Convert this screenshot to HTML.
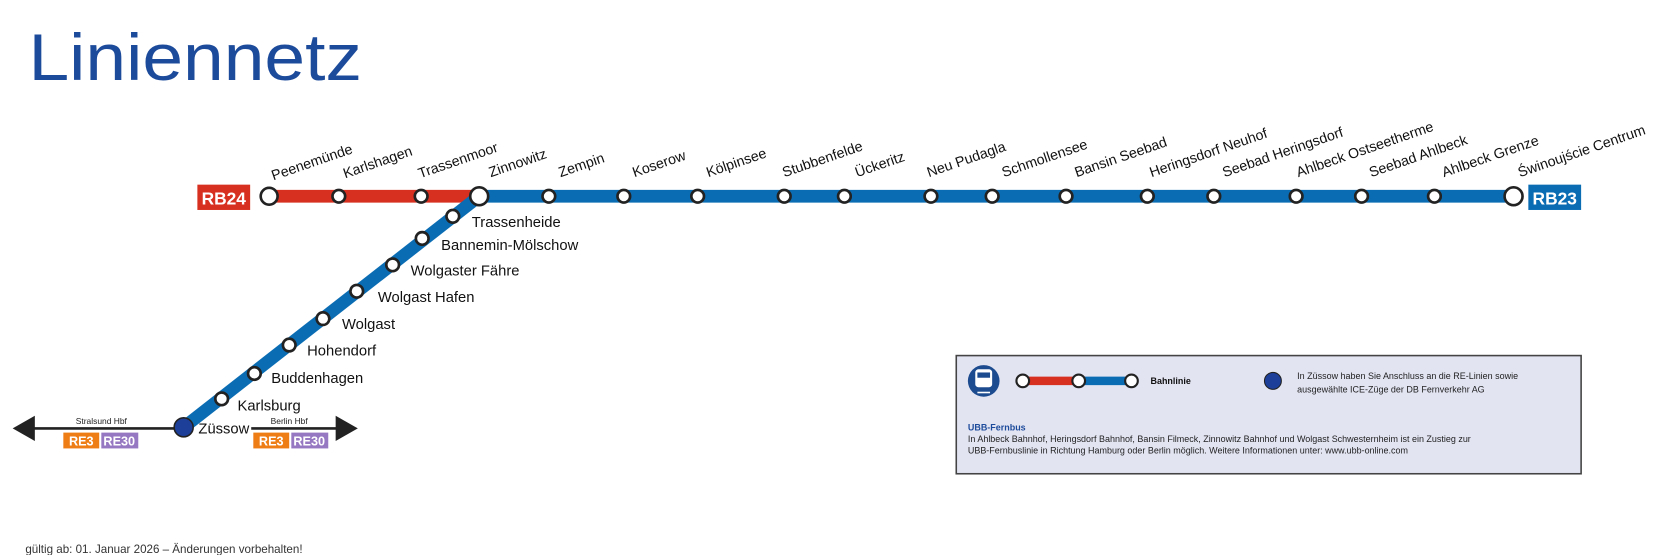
<!DOCTYPE html>
<html><head><meta charset="utf-8"><style>
html,body{margin:0;padding:0;background:#fff;}
svg{display:block;}
text{font-family:"Liberation Sans",sans-serif;}
</style></head><body>
<svg width="1655" height="555" viewBox="0 0 1568 526" preserveAspectRatio="none" xmlns="http://www.w3.org/2000/svg">
<text x="27" y="76" font-size="62" fill="#1d4b9b" textLength="316" lengthAdjust="spacingAndGlyphs">Liniennetz</text>

<line x1="255" y1="186" x2="454" y2="186" stroke="#d83020" stroke-width="12"/>
<line x1="454" y1="186" x2="1434" y2="186" stroke="#0a6db4" stroke-width="12"/>
<line x1="174" y1="405" x2="454" y2="186" stroke="#0a6db4" stroke-width="12"/>

<rect x="187" y="175" width="50" height="24" fill="#d83020"/>
<text x="212" y="194" font-size="17" font-weight="bold" fill="#fff" text-anchor="middle" textLength="42" lengthAdjust="spacingAndGlyphs">RB24</text>
<rect x="1448" y="175" width="50" height="24" fill="#0a6db4"/>
<text x="1473" y="194" font-size="17" font-weight="bold" fill="#fff" text-anchor="middle" textLength="42" lengthAdjust="spacingAndGlyphs">RB23</text>

<g fill="#fff" stroke="#222" stroke-width="2.5">
<circle cx="255" cy="186" r="8"/><circle cx="321" cy="186" r="6"/><circle cx="399" cy="186" r="6"/><circle cx="454" cy="186" r="8.5"/>
<circle cx="520" cy="186" r="6"/><circle cx="591" cy="186" r="6"/><circle cx="661" cy="186" r="6"/><circle cx="743" cy="186" r="6"/>
<circle cx="800" cy="186" r="6"/><circle cx="882" cy="186" r="6"/><circle cx="940" cy="186" r="6"/><circle cx="1010" cy="186" r="6"/>
<circle cx="1087" cy="186" r="6"/><circle cx="1150" cy="186" r="6"/><circle cx="1228" cy="186" r="6"/><circle cx="1290" cy="186" r="6"/>
<circle cx="1359" cy="186" r="6"/><circle cx="1434" cy="186" r="8.5"/>
<circle cx="210" cy="378" r="6"/><circle cx="241" cy="354" r="6"/><circle cx="274" cy="327" r="6"/><circle cx="306" cy="302" r="6"/>
<circle cx="338" cy="276" r="6"/><circle cx="372" cy="251" r="6"/><circle cx="400" cy="226" r="6"/><circle cx="429" cy="205" r="6"/>
</g>
<circle cx="174" cy="405" r="9" fill="#1d3f99" stroke="#222" stroke-width="1.5"/>

<g font-size="13.5" fill="#111">
<text transform="translate(259,171) rotate(-19)">Peenemünde</text>
<text transform="translate(327,169) rotate(-19)">Karlshagen</text>
<text transform="translate(398,169) rotate(-19)">Trassenmoor</text>
<text transform="translate(465,168) rotate(-19)">Zinnowitz</text>
<text transform="translate(531,168) rotate(-19)">Zempin</text>
<text transform="translate(601,168) rotate(-19)">Koserow</text>
<text transform="translate(671,168) rotate(-19)">Kölpinsee</text>
<text transform="translate(743,168) rotate(-19)">Stubbenfelde</text>
<text transform="translate(812,168) rotate(-19)">Ückeritz</text>
<text transform="translate(880,168) rotate(-19)">Neu Pudagla</text>
<text transform="translate(951,168) rotate(-19)">Schmollensee</text>
<text transform="translate(1020,168) rotate(-19)">Bansin Seebad</text>
<text transform="translate(1091,168) rotate(-19)">Heringsdorf Neuhof</text>
<text transform="translate(1160,168) rotate(-19)">Seebad Heringsdorf</text>
<text transform="translate(1230,168) rotate(-19)">Ahlbeck Ostseetherme</text>
<text transform="translate(1299,168) rotate(-19)">Seebad Ahlbeck</text>
<text transform="translate(1368,168) rotate(-19)">Ahlbeck Grenze</text>
<text transform="translate(1440,168) rotate(-19)">Świnoujście Centrum</text>
</g>
<g font-size="14" fill="#111">
<text x="447" y="215">Trassenheide</text>
<text x="418" y="237">Bannemin-Mölschow</text>
<text x="389" y="261">Wolgaster  Fähre</text>
<text x="358" y="286">Wolgast Hafen</text>
<text x="324" y="312">Wolgast</text>
<text x="291" y="337">Hohendorf</text>
<text x="257" y="363">Buddenhagen</text>
<text x="225" y="389">Karlsburg</text>
<text x="188" y="411">Züssow</text>
</g>

<line x1="24" y1="406" x2="165" y2="406" stroke="#222" stroke-width="2.5"/>
<polygon points="12,406 33,394 33,418" fill="#222"/>
<line x1="238" y1="406" x2="325" y2="406" stroke="#222" stroke-width="2.5"/>
<polygon points="339,406 318,394 318,418" fill="#222"/>
<text x="96" y="402" font-size="8" fill="#222" text-anchor="middle">Stralsund Hbf</text>
<text x="274" y="402" font-size="8" fill="#222" text-anchor="middle">Berlin Hbf</text>
<rect x="60" y="410" width="34" height="15" fill="#ee7d16"/><text x="77" y="422" font-size="12" font-weight="bold" fill="#fff" text-anchor="middle">RE3</text>
<rect x="96" y="410" width="35" height="15" fill="#9677c2"/><text x="113" y="422" font-size="12" font-weight="bold" fill="#fff" text-anchor="middle">RE30</text>
<rect x="240" y="410" width="34" height="15" fill="#ee7d16"/><text x="257" y="422" font-size="12" font-weight="bold" fill="#fff" text-anchor="middle">RE3</text>
<rect x="276" y="410" width="35" height="15" fill="#9677c2"/><text x="293" y="422" font-size="12" font-weight="bold" fill="#fff" text-anchor="middle">RE30</text>

<rect x="906" y="337" width="592" height="112" fill="#e2e4f2" stroke="#444" stroke-width="1.5"/>
<circle cx="932" cy="361" r="15" fill="#1d4b8f"/>
<rect x="924" y="350" width="16" height="17" rx="3" fill="#fff"/>
<rect x="926" y="353" width="12" height="5" fill="#1d4b8f"/>
<line x1="926" y1="372" x2="938" y2="372" stroke="#fff" stroke-width="1.5"/>
<line x1="968" y1="361" x2="1022" y2="361" stroke="#d83020" stroke-width="8"/>
<line x1="1022" y1="361" x2="1072" y2="361" stroke="#0a6db4" stroke-width="8"/>
<g fill="#fff" stroke="#222" stroke-width="2"><circle cx="969" cy="361" r="6"/><circle cx="1022" cy="361" r="6"/><circle cx="1072" cy="361" r="6"/></g>
<text x="1090" y="364" font-size="8.5" font-weight="bold" fill="#111">Bahnlinie</text>
<circle cx="1206" cy="361" r="8" fill="#1d3f99" stroke="#222" stroke-width="1"/>
<text x="1229" y="359" font-size="8.5" fill="#222">In Züssow haben Sie Anschluss an die RE-Linien sowie</text>
<text x="1229" y="372" font-size="8.5" fill="#222">ausgewählte ICE-Züge der DB Fernverkehr AG</text>
<text x="917" y="408" font-size="8.5" font-weight="bold" fill="#1d4b9b">UBB-Fernbus</text>
<text x="917" y="419" font-size="8.5" fill="#222">In Ahlbeck Bahnhof, Heringsdorf Bahnhof, Bansin Filmeck, Zinnowitz Bahnhof und Wolgast Schwesternheim ist ein Zustieg zur</text>
<text x="917" y="430" font-size="8.5" fill="#222">UBB-Fernbuslinie in Richtung Hamburg oder Berlin möglich. Weitere Informationen unter: www.ubb-online.com</text>

<text x="24" y="524" font-size="11" fill="#333">gültig ab: 01. Januar 2026 – Änderungen vorbehalten!</text>
</svg>
</body></html>
